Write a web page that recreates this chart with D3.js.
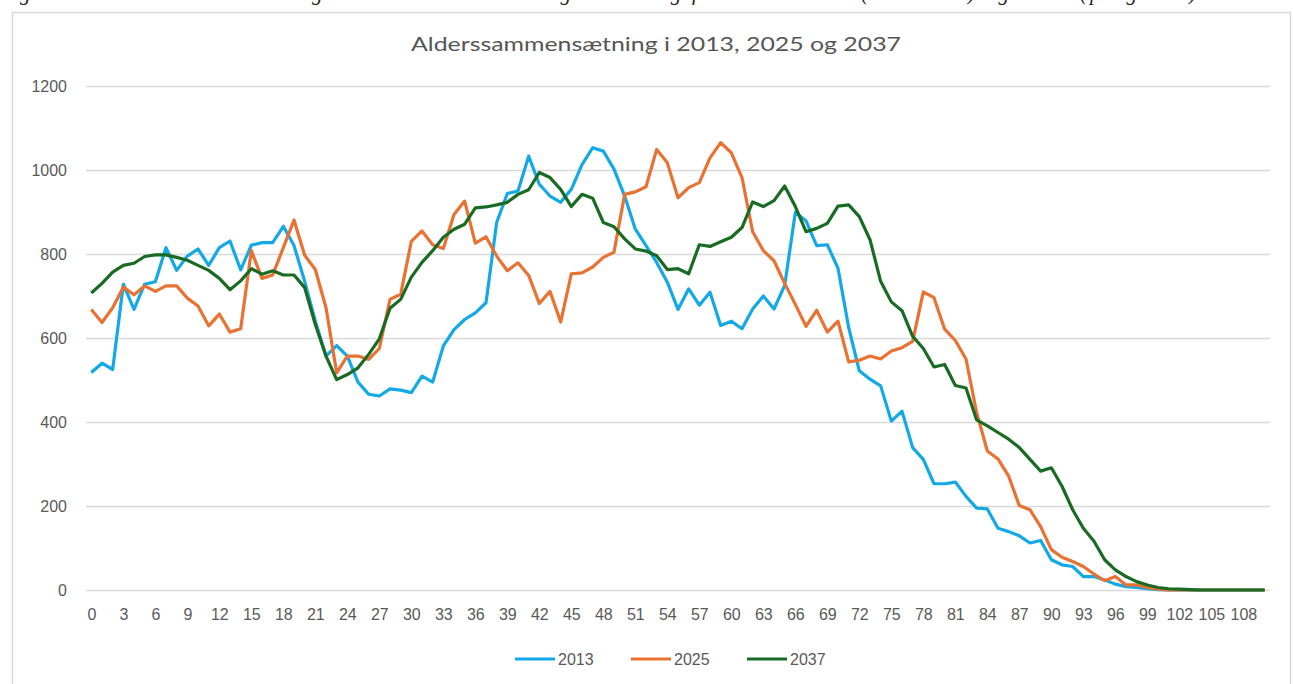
<!DOCTYPE html>
<html>
  <head>
    <meta charset="utf-8">
    <script src="https://d3js.org/d3.v7.min.js"></script>
    <style>
      body { margin: 0; background: white; }
      svg { display: block; }
    </style>
  </head>
  <body>
    <div id="chart"></div>
    <script>
      // data: ages 0..110, one value per age and year
      const ages = d3.range(0, 111)
      const seriesNames = ["2013", "2025", "2037"]
      const yTicks = [0, 200, 400, 600, 800, 1000, 1200]

      const v2013 = [
        518, 540, 525, 728, 668, 728, 734, 815, 761, 795,
        812, 773, 815, 831, 762, 821, 827, 827, 866, 820,
        735, 640, 557, 582, 557, 495, 466, 462, 479, 476,
        470, 509, 495, 581, 620, 644, 660, 684, 875, 944,
        950, 1033, 966, 938, 923, 954, 1013, 1053, 1045, 1002,
        938, 859, 820, 780, 733, 668, 717, 678, 709, 630,
        640, 622, 669, 700, 669, 725, 899, 879, 820, 822,
        766, 625, 522, 502, 486, 402, 426, 339, 311, 253,
        253, 257, 223, 195, 193, 147, 139, 129, 112, 118,
        72, 60, 56, 32, 32, 24, 14, 8, 6, 3,
        1, 0, 0, 0, 0, 0, 0, 0, 0, 0, 0
      ]
      const v2025 = [
        668, 637, 672, 721, 703, 724, 711, 724, 724, 695,
        676, 629, 657, 614, 622, 808, 742, 750, 815, 881,
        797, 763, 672, 517, 557, 557, 549, 575, 692, 704,
        830, 855, 822, 813, 894, 926, 826, 841, 795, 760,
        779, 749, 682, 711, 638, 753, 755, 769, 792, 804,
        942, 948, 960, 1049, 1017, 934, 958, 970, 1029, 1065,
        1041, 982, 853, 808, 784, 730, 680, 628, 666, 614,
        640, 543, 547, 557, 550, 569, 577, 592, 710, 696,
        621, 594, 550, 422, 331, 312, 271, 201, 191, 151,
        96, 78, 68, 56, 38, 22, 32, 12, 12, 6,
        2, 0, 0, 0, 0, 0, 0, 0, 0, 0, 0
      ]
      const v2037 = [
        707, 730, 757, 773, 778, 794, 798, 798, 792, 785,
        773, 761, 742, 715, 736, 765, 752, 760, 750, 750,
        720, 632, 557, 501, 513, 529, 561, 598, 671, 692,
        745, 780, 808, 840, 859, 871, 910, 912, 917, 923,
        942, 953, 994, 982, 954, 913, 942, 933, 875, 865,
        836, 812, 807, 796, 763, 765, 753, 822, 818, 829,
        840, 863, 924, 913, 927, 962, 913, 853, 861, 873,
        914, 917, 889, 834, 735, 686, 665, 604, 575, 531,
        537, 487, 481, 405, 391, 375, 359, 339, 311, 283,
        291, 247, 191, 147, 116, 72, 48, 32, 20, 12,
        6, 3, 2, 1, 0, 0, 0, 0, 0, 0, 0
      ]
      const seriesValues = [v2013, v2025, v2037]
      const colors = ["#13a9e6", "#e97132", "#196b24"]

      const W = 1293, H = 684
      const plot = {left: 86, right: 1270, top: 86, bottom: 590}
      const labelFont = "Liberation Sans, Arial, sans-serif"

      const svg = d3.select("#chart").append("svg")
        .attr("width", W).attr("height", H)

      // caption of the surrounding document, cut by the top edge as in the scan
      svg.append("text")
        .attr("x", -4).attr("y", -0.5)
        .attr("font-family", "Liberation Serif, serif")
        .attr("font-style", "italic")
        .attr("font-size", 21)
        .attr("fill", "#222")
        .attr("textLength", 1200)
        .text("Figur 4: Aldersammensætning i kommunen i 2013 og udvikling frem mod 2025 (historisk) og 2037 (prognose)")

      // chart frame
      svg.append("rect")
        .attr("x", 12.5).attr("y", 12.5)
        .attr("width", 1278).attr("height", 700)
        .attr("fill", "white")
        .attr("stroke", "#d9d9d9").attr("stroke-width", 1.5)

      svg.append("text")
        .attr("x", 656).attr("y", 51)
        .attr("text-anchor", "middle")
        .attr("font-family", "Lato, sans-serif")
        .attr("font-size", 20)
        .attr("fill", "#555")
        .attr("textLength", 490)
        .attr("lengthAdjust", "spacingAndGlyphs")
        .text("Alderssammensætning i 2013, 2025 og 2037")

      const x = d3.scalePoint()
        .domain(ages)
        .range([plot.left, plot.right])
        .padding(0.5)
      const y = d3.scaleLinear()
        .domain([0, 1200])
        .range([plot.bottom, plot.top])

      const yAxis = svg.append("g")
        .attr("transform", `translate(${plot.left},0)`)
        .call(d3.axisLeft(y).tickValues(yTicks).tickFormat(d3.format("d"))
          .tickSize(-(plot.right - plot.left)).tickPadding(19))
      yAxis.select(".domain").remove()
      yAxis.selectAll(".tick line")
        .attr("stroke", "#d9d9d9").attr("stroke-width", 1.5)
      yAxis.selectAll(".tick text")
        .attr("font-family", labelFont)
        .attr("font-size", 16)
        .attr("fill", "#595959")

      const xAxis = svg.append("g")
        .attr("transform", `translate(0,${plot.bottom})`)
        .call(d3.axisBottom(x).tickValues(ages.filter(a => a % 3 === 0))
          .tickSize(0).tickPadding(19))
      xAxis.select(".domain").remove()
      xAxis.selectAll(".tick text")
        .attr("font-family", labelFont)
        .attr("font-size", 16)
        .attr("fill", "#595959")

      const line = d3.line()
        .x((d, i) => x(ages[i]))
        .y(d => y(d))

      svg.append("g").selectAll("path")
        .data(seriesValues)
        .join("path")
          .attr("d", line)
          .attr("fill", "none")
          .attr("stroke", (d, i) => colors[i])
          .attr("stroke-width", 3.2)
          .attr("stroke-linejoin", "round")

      // legend
      const legendX = [515, 631, 747]
      const legend = svg.append("g").selectAll("g")
        .data(seriesNames)
        .join("g")
          .attr("transform", (d, i) => `translate(${legendX[i]},659)`)
      legend.append("line")
        .attr("x1", 0).attr("x2", 40)
        .attr("stroke", (d, i) => colors[i])
        .attr("stroke-width", 3.2)
      legend.append("text")
        .attr("x", 43).attr("dy", "0.35em")
        .attr("font-family", labelFont)
        .attr("font-size", 16)
        .attr("fill", "#595959")
        .text(d => d)
    </script>
  </body>
</html>
